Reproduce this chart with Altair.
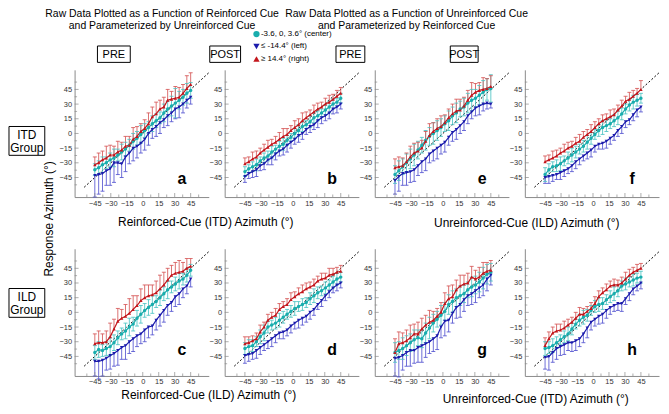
import altair as alt
import pandas as pd

# ---------------- data ----------------
X = [-45.0, -41.4, -37.8, -34.2, -30.6, -27.0, -23.4, -19.8, -16.2, -12.6, -9.0, -5.4, -1.8,
     1.8, 5.4, 9.0, 12.6, 16.2, 19.8, 23.4, 27.0, 30.6, 34.2, 37.8, 41.4, 45.0]
SERIES = ["center", "left", "right"]
SERIES_LABELS = ["-3.6, 0, 3.6\u00b0 (center)", "\u2264 -14.4\u00b0 (left)", "\u2265 14.4\u00b0 (right)"]
MAJOR = [-45, -30, -15, 0, 15, 30, 45]
MINOR = [-52.5, -37.5, -22.5, -7.5, 7.5, 22.5, 37.5, 52.5]
DIAG = [-55, 62]

# panel a : ITD group, PRE, vs reinforced cue
A_RIGHT = [-32, -30, -27, -25, -22, -22, -19, -17, -13, -12, -6, -3, 2, 5, 10, 17, 20, 25, 27, 34, 35, 36, 37, 41, 46, 50]
A_CENTER = [-37, -35, -32, -30, -27, -25, -22, -19, -16, -12, -8, -5, -1, 3, 6, 10, 13, 16, 21, 25, 28, 31, 34, 37, 41, 44]
A_LEFT = [-43, -42, -41, -38, -36, -30, -30, -31, -24, -20, -15, -13, -10, -6, 0, 4, 7, 11, 14, 18, 21, 25, 27, 30, 34, 37]
A_RIGHT_E = [8, 10, 9, 12, 10, 9, 11, 8, 10, 9, 12, 10, 8, 9, 11, 10, 12, 9, 10, 11, 8, 12, 10, 9, 13, 12]
A_CENTER_E = [6, 7, 8, 6, 7, 9, 6, 8, 7, 6, 8, 7, 9, 7, 6, 8, 7, 6, 9, 8, 10, 15, 9, 8, 10, 8]
A_LEFT_E = [22, 20, 18, 15, 17, 20, 12, 14, 15, 11, 13, 12, 10, 11, 12, 9, 10, 11, 8, 10, 9, 10, 11, 9, 8, 7]

# panel b : ITD group, POST, vs reinforced cue
B_RIGHT = [-31, -29, -26, -24, -20, -17, -14, -11, -9, -6, -3, -1, 3, 6, 9, 13, 16, 19, 22, 25, 27, 30, 32, 35, 38, 41]
B_CENTER = [-39, -36, -34, -32, -28, -25, -23, -19, -16, -13, -11, -7, -4, 0, 3, 7, 9, 12, 16, 18, 21, 24, 27, 30, 32, 36]
B_LEFT = [-44, -41, -39, -37, -33, -31, -27, -25, -21, -18, -16, -12, -9, -6, -2, 0, 4, 7, 9, 13, 16, 18, 21, 25, 27, 30]
B_RIGHT_E = [6, 5, 7, 6, 5, 6, 7, 5, 6, 7, 8, 6, 5, 7, 6, 8, 6, 5, 7, 6, 5, 6, 7, 5, 6, 6]
B_CENTER_E = [5, 4, 5, 6, 4, 5, 5, 6, 4, 5, 6, 5, 4, 5, 6, 5, 4, 6, 5, 5, 4, 5, 6, 5, 4, 5]
B_LEFT_E = [6, 5, 6, 7, 5, 6, 5, 7, 6, 5, 6, 7, 6, 5, 7, 6, 5, 6, 5, 7, 6, 5, 6, 5, 6, 5]

# panel c : ILD group, PRE, vs reinforced cue
C_RIGHT = [-32, -31, -31, -30, -25, -17, -9, -6, -4, -1, 3, 7, 12, 15, 17, 18, 20, 24, 28, 33, 38, 40, 41, 42, 45, 47]
C_CENTER = [-41, -38, -39, -37, -35, -31, -26, -22, -19, -15, -12, -6, -2, 2, 5, 8, 11, 15, 19, 23, 26, 29, 32, 34, 38, 43]
C_LEFT = [-50, -50, -49, -47, -44, -42, -39, -36, -34, -30, -27, -24, -22, -18, -15, -14, -8, -3, 2, 7, 10, 16, 19, 24, 27, 34]
C_RIGHT_E = [10, 12, 9, 11, 14, 10, 13, 9, 12, 15, 14, 10, 12, 13, 11, 10, 12, 14, 13, 12, 10, 11, 12, 9, 10, 8]
C_CENTER_E = [7, 8, 6, 7, 9, 8, 7, 6, 8, 9, 7, 8, 9, 7, 8, 9, 6, 8, 7, 9, 6, 7, 8, 6, 7, 6]
C_LEFT_E = [15, 18, 16, 12, 14, 13, 15, 12, 14, 12, 13, 11, 10, 12, 11, 9, 10, 11, 12, 10, 9, 10, 11, 9, 8, 8]

# panel d : ILD group, POST, vs reinforced cue
D_RIGHT = [-32, -31, -29, -27, -20, -15, -8, -5, -3, 3, 6, 8, 13, 16, 19, 21, 24, 26, 28, 32, 34, 35, 38, 39, 41, 42]
D_CENTER = [-37, -35, -34, -30, -25, -21, -15, -13, -11, -8, -5, -2, 1, 4, 6, 8, 10, 14, 17, 20, 22, 25, 28, 31, 34, 36]
D_LEFT = [-44, -43, -42, -39, -36, -33, -30, -27, -24, -21, -20, -18, -14, -11, -8, -6, -4, 0, 3, 8, 12, 17, 21, 25, 28, 30]
D_RIGHT_E = [7, 6, 5, 6, 7, 5, 6, 5, 7, 6, 5, 6, 7, 5, 6, 7, 6, 5, 6, 5, 6, 5, 7, 6, 5, 6]
D_CENTER_E = [6, 7, 6, 5, 7, 8, 6, 5, 6, 7, 6, 5, 6, 7, 5, 6, 5, 6, 7, 6, 5, 6, 5, 6, 6, 5]
D_LEFT_E = [8, 7, 6, 8, 7, 6, 7, 8, 7, 6, 7, 6, 7, 6, 8, 7, 6, 7, 6, 5, 6, 5, 6, 5, 6, 5]

# panel e : ITD group, PRE, vs unreinforced cue
E_RIGHT = [-35, -34, -33, -29, -24, -20, -18, -15, -8, -2, 2, 5, 7, 11, 16, 20, 23, 24, 28, 34, 39, 42, 44, 45, 46, 48]
E_CENTER = [-42, -38, -34, -30, -26, -22, -17, -12, -7, -3, 0, 3, 6, 10, 13, 18, 21, 25, 27, 31, 34, 36, 39, 42, 45, 46]
E_LEFT = [-48, -44, -41, -40, -39, -37, -33, -29, -26, -21, -18, -15, -12, -9, -4, 1, 4, 8, 12, 18, 22, 26, 28, 30, 31, 30]
E_RIGHT_E = [9, 10, 8, 9, 11, 10, 9, 8, 10, 12, 9, 10, 11, 8, 9, 10, 12, 11, 9, 10, 13, 9, 8, 12, 10, 11]
E_CENTER_E = [9, 10, 8, 9, 10, 11, 9, 8, 10, 9, 11, 10, 9, 8, 10, 9, 10, 8, 9, 10, 11, 9, 10, 12, 11, 14]
E_LEFT_E = [14, 15, 12, 13, 11, 12, 10, 11, 12, 9, 10, 11, 9, 10, 8, 9, 10, 8, 9, 8, 7, 8, 9, 7, 6, 4]

# panel f : ITD group, POST, vs unreinforced cue
F_RIGHT = [-29, -27, -25, -23, -20, -18, -15, -13, -10, -8, -4, -1, 2, 6, 10, 13, 15, 17, 19, 24, 28, 33, 35, 38, 41, 45]
F_CENTER = [-42, -37, -34, -33, -31, -28, -25, -22, -19, -16, -13, -9, -5, -1, 3, 6, 8, 10, 13, 16, 20, 25, 29, 32, 34, 36]
F_LEFT = [-45, -44, -43, -42, -40, -38, -36, -33, -29, -26, -23, -20, -17, -13, -11, -10, -8, -5, -2, 3, 7, 12, 14, 19, 24, 27]
F_RIGHT_E = [6, 5, 7, 6, 5, 7, 6, 5, 6, 7, 6, 5, 7, 6, 5, 6, 5, 7, 6, 5, 6, 5, 7, 6, 5, 9]
F_CENTER_E = [7, 6, 5, 6, 7, 5, 6, 7, 6, 5, 6, 7, 6, 5, 6, 7, 6, 5, 6, 7, 6, 5, 6, 7, 6, 5]
F_LEFT_E = [6, 7, 6, 5, 7, 6, 5, 6, 7, 6, 5, 6, 7, 6, 5, 6, 7, 6, 5, 6, 7, 6, 5, 6, 7, 5]

# panel g : ILD group, PRE, vs unreinforced cue
G_RIGHT = [-41, -32, -31, -29, -26, -22, -22, -17, -13, -10, -8, -4, 0, 9, 14, 16, 23, 27, 29, 30, 36, 34, 36, 40, 42, 43]
G_CENTER = [-41, -39, -37, -34, -31, -28, -26, -27, -21, -16, -11, -7, -3, 1, 8, 11, 15, 17, 19, 23, 26, 28, 31, 35, 39, 41]
G_LEFT = [-47, -46, -44, -41, -39, -39, -36, -34, -32, -30, -27, -24, -15, -9, -8, -1, 5, 8, 13, 17, 19, 22, 25, 28, 34, 38]
G_RIGHT_E = [14, 12, 10, 11, 13, 10, 12, 11, 10, 12, 9, 8, 10, 11, 13, 12, 10, 11, 9, 10, 11, 9, 10, 11, 9, 10]
G_CENTER_E = [10, 9, 11, 10, 9, 10, 8, 9, 10, 11, 9, 8, 10, 9, 10, 11, 9, 10, 9, 8, 10, 9, 10, 11, 10, 9]
G_LEFT_E = [18, 20, 15, 14, 16, 13, 15, 17, 14, 12, 13, 14, 11, 15, 12, 10, 11, 13, 12, 10, 11, 12, 10, 11, 12, 10]

# panel h : ILD group, POST, vs unreinforced cue
H_RIGHT = [-34, -27, -21, -19, -18, -16, -13, -10, -6, -2, -2, 1, 4, 9, 16, 20, 23, 27, 28, 28, 30, 34, 38, 41, 43, 45]
H_CENTER = [-37, -36, -34, -31, -28, -25, -22, -17, -12, -8, -5, -3, 2, 6, 8, 9, 13, 16, 19, 22, 27, 29, 31, 33, 35, 36]
H_LEFT = [-46, -45, -41, -37, -35, -33, -31, -31, -29, -27, -22, -16, -10, -7, -4, -2, 2, 5, 7, 9, 9, 14, 19, 24, 27, 30]
H_RIGHT_E = [8, 7, 6, 7, 6, 7, 6, 5, 6, 7, 6, 5, 6, 7, 6, 5, 6, 5, 6, 5, 6, 7, 6, 5, 6, 5]
H_CENTER_E = [7, 6, 7, 6, 5, 6, 7, 6, 5, 6, 7, 6, 5, 6, 7, 6, 5, 6, 7, 6, 5, 6, 5, 6, 5, 6]
H_LEFT_E = [12, 14, 10, 11, 9, 10, 8, 9, 10, 8, 9, 10, 8, 7, 8, 9, 8, 7, 6, 7, 8, 6, 7, 6, 5, 6]

DATA = {
    "a": {"center": (A_CENTER, A_CENTER_E), "left": (A_LEFT, A_LEFT_E), "right": (A_RIGHT, A_RIGHT_E)},
    "b": {"center": (B_CENTER, B_CENTER_E), "left": (B_LEFT, B_LEFT_E), "right": (B_RIGHT, B_RIGHT_E)},
    "c": {"center": (C_CENTER, C_CENTER_E), "left": (C_LEFT, C_LEFT_E), "right": (C_RIGHT, C_RIGHT_E)},
    "d": {"center": (D_CENTER, D_CENTER_E), "left": (D_LEFT, D_LEFT_E), "right": (D_RIGHT, D_RIGHT_E)},
    "e": {"center": (E_CENTER, E_CENTER_E), "left": (E_LEFT, E_LEFT_E), "right": (E_RIGHT, E_RIGHT_E)},
    "f": {"center": (F_CENTER, F_CENTER_E), "left": (F_LEFT, F_LEFT_E), "right": (F_RIGHT, F_RIGHT_E)},
    "g": {"center": (G_CENTER, G_CENTER_E), "left": (G_LEFT, G_LEFT_E), "right": (G_RIGHT, G_RIGHT_E)},
    "h": {"center": (H_CENTER, H_CENTER_E), "left": (H_LEFT, H_LEFT_E), "right": (H_RIGHT, H_RIGHT_E)},
}

# ---------------- styling ----------------
W, H = 135, 128
FONT = "Liberation Sans"
AXC = "#8a8a8a"
LINE_COLORS = ["#19adad", "#1b1bac", "#c3161c"]
ERR_COLORS = ["#4cc3c3", "#5454d0", "#d65656"]
SHAPES = ["circle", "triangle-down", "triangle-up"]

XSC = alt.Scale(domain=[-64, 62], nice=False, zero=False)
YSC = alt.Scale(domain=[-65, 65], nice=False, zero=False)
COLSC = alt.Scale(domain=SERIES, range=LINE_COLORS)
ERRSC = alt.Scale(domain=SERIES, range=ERR_COLORS)
SHSC = alt.Scale(domain=SERIES, range=SHAPES)

XAXIS = alt.Axis(values=MAJOR, tickSize=0, labelPadding=2, labelFontSize=7.5, labelFont=FONT,
                 labelColor="#333333", domainColor=AXC, domainWidth=1, grid=False, title=None,
                 labelFlush=False)
YAXIS = alt.Axis(values=MAJOR, tickSize=0, labelPadding=3, labelFontSize=7.5, labelFont=FONT,
                 labelColor="#333333", domainColor=AXC, domainWidth=1, grid=False, title=None,
                 labelFlush=False)

ONE = pd.DataFrame({"k": [0]})


def txt(text, x, y, size=12, weight="normal", angle=0, align="center",
        baseline="middle", line_height=13):
    return alt.Chart(ONE).mark_text(text=text, fontSize=size, font=FONT, fontWeight=weight,
                                    angle=angle, align=align, baseline=baseline,
                                    lineHeight=line_height, color="black").encode(
        x=alt.value(x), y=alt.value(y))


def box(x1, x2, y1, y2):
    return alt.Chart(ONE).mark_rect(fillOpacity=0, stroke="black", strokeWidth=1).encode(
        x=alt.value(x1), x2=alt.value(x2), y=alt.value(y1), y2=alt.value(y2))


def labelled_box(label, x1, x2, y1, y2, size=11, line_height=13):
    n = len(label) if isinstance(label, list) else 1
    yc = (y1 + y2) / 2 + 0.5 - (n - 1) * line_height / 2
    return [box(x1, x2, y1, y2),
            txt(label, (x1 + x2) / 2, yc, size=size, line_height=line_height)]


def legend_layers(x, ys):
    out = []
    for lab, col, shp, yy in zip(SERIES_LABELS, LINE_COLORS, SHAPES, ys):
        out.append(alt.Chart(ONE).mark_point(shape=shp, filled=True, color=col, size=40,
                                             opacity=1).encode(x=alt.value(x), y=alt.value(yy)))
        out.append(txt(lab, x + 4.5, yy, size=8, align="left"))
    return out


def panel(key, extra):
    rows, caps = [], []
    for ser in SERIES:
        vals, errs = DATA[key][ser]
        for x, v, e in zip(X, vals, errs):
            lo = v - e if ser != "right" else v
            hi = v + e if ser != "left" else v
            rows.append({"x": x, "y": v, "lo": lo, "hi": hi, "series": ser})
            if ser != "left":
                caps.append({"x": x, "c": hi, "series": ser})
            if ser != "right":
                caps.append({"x": x, "c": lo, "series": ser})
    df = pd.DataFrame(rows)
    cdf = pd.DataFrame(caps)
    xe = alt.X("x:Q", scale=XSC, axis=XAXIS)

    diag = alt.Chart(pd.DataFrame({"x": DIAG, "y": DIAG})).mark_line(
        strokeDash=[2, 2], color="black", strokeWidth=1).encode(
        x=xe, y=alt.Y("y:Q", scale=YSC, axis=YAXIS))
    rules = alt.Chart(df).mark_rule(strokeWidth=1, opacity=0.85).encode(
        x=xe, y=alt.Y("lo:Q", scale=YSC, axis=YAXIS), y2="hi:Q",
        stroke=alt.Stroke("series:N", scale=ERRSC, legend=None))
    capm = alt.Chart(cdf).mark_tick(orient="horizontal", size=4, thickness=1, opacity=0.85).encode(
        x=xe, y=alt.Y("c:Q", scale=YSC, axis=YAXIS),
        fill=alt.Fill("series:N", scale=ERRSC, legend=None))
    lines = alt.Chart(df).mark_line(strokeWidth=1.2).encode(
        x=xe, y=alt.Y("y:Q", scale=YSC, axis=YAXIS),
        color=alt.Color("series:N", scale=COLSC, legend=None))
    pts = alt.Chart(df).mark_point(filled=True, size=12, opacity=1).encode(
        x=xe, y=alt.Y("y:Q", scale=YSC, axis=YAXIS),
        color=alt.Color("series:N", scale=COLSC, legend=None),
        shape=alt.Shape("series:N", scale=SHSC, legend=None))

    xt1 = alt.Chart(pd.DataFrame({"v": MAJOR})).mark_tick(
        orient="vertical", size=4, thickness=1, color=AXC).encode(
        x=alt.X("v:Q", scale=XSC, axis=XAXIS), y=alt.value(H - 2))
    xt2 = alt.Chart(pd.DataFrame({"v": MINOR})).mark_tick(
        orient="vertical", size=2.5, thickness=1, color=AXC).encode(
        x=alt.X("v:Q", scale=XSC, axis=XAXIS), y=alt.value(H - 1.25))
    yt1 = alt.Chart(pd.DataFrame({"v": MAJOR})).mark_tick(
        orient="horizontal", size=4, thickness=1, color=AXC).encode(
        y=alt.Y("v:Q", scale=YSC, axis=YAXIS), x=alt.value(2))
    yt2 = alt.Chart(pd.DataFrame({"v": MINOR})).mark_tick(
        orient="horizontal", size=2.5, thickness=1, color=AXC).encode(
        y=alt.Y("v:Q", scale=YSC, axis=YAXIS), x=alt.value(1.25))

    top_row = key in ("a", "b", "e", "f")
    letter = txt(key, 108, 110 if top_row else 102, size=16, weight="bold")
    layers = [diag, rules, capm, lines, pts, xt1, xt2, yt1, yt2, letter] + extra
    return alt.layer(*layers).properties(width=W, height=H)


TITLE_L = ["Raw Data Plotted as a Function of Reinforced Cue", "and Parameterized by Unreinforced Cue"]
TITLE_R = ["Raw Data Plotted as a Function of Unreinforced Cue", "and Parameterized by Reinforced Cue"]
TITLE_Y = -61

pa = panel("a", [txt(TITLE_L, 88, TITLE_Y, size=10.5, baseline="top", line_height=12)]
           + labelled_box("PRE", 23, 56, -24, -7.5)
           + labelled_box(["ITD", "Group"], -66, -30, 57, 86, size=12, line_height=13)
           + [txt("Response Azimuth (\u00b0)", -26, 150, size=12, angle=270),
              txt("Reinforced-Cue (ITD) Azimuth (\u00b0)", 132, 153, size=12)])
pb = panel("b", labelled_box("POST", -15, 16, -24, -7.5) + legend_layers(32, [-36, -23.5, -11]))
pe = panel("e", [txt(TITLE_R, 32, TITLE_Y, size=10.5, baseline="top", line_height=12)]
           + labelled_box("PRE", -39, -10, -24, -7.5)
           + [txt("Unreinforced-Cue (ILD) Azimuth (\u00b0)", 153, 154, size=12)])
pf = panel("f", labelled_box("POST", -75, -47, -24, -7.5))
pc = panel("c", labelled_box(["ILD", "Group"], -66, -30, 40, 69, size=12, line_height=13)
           + [txt("Reinforced-Cue (ILD) Azimuth (\u00b0)", 135, 147, size=12)])
pd_ = panel("d", [])
pg = panel("g", [txt("Unreinforced-Cue (ITD) Azimuth (\u00b0)", 162, 151, size=12)])
ph = panel("h", [])

chart = alt.concat(pa, pb, pe, pf, pc, pd_, pg, ph, columns=4,
                   spacing={"row": 52, "column": 16}, bounds="flush").properties(
    padding=0).configure_view(strokeWidth=0)

chart.save("out.html", embed_options={"renderer": "svg", "actions": False})
